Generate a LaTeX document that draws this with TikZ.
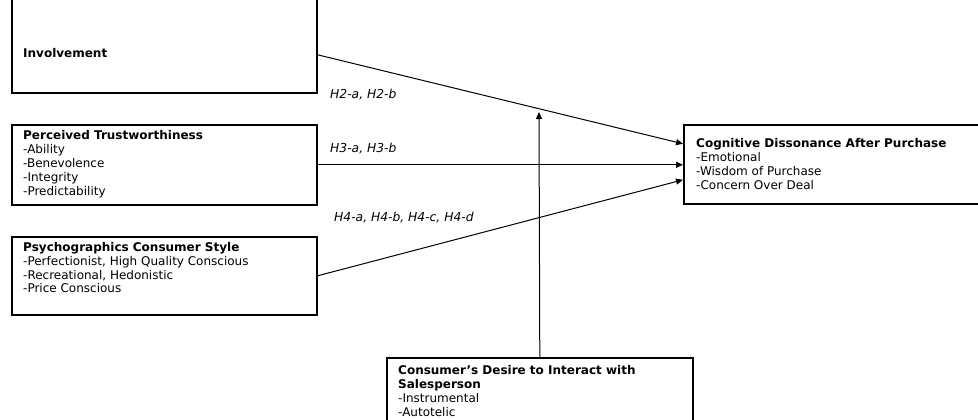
\documentclass[tikz,border=0pt]{standalone}
\usepackage{fontspec}
\setmainfont{DejaVu Sans}
\usetikzlibrary{arrows.meta}
\begin{document}
\begin{tikzpicture}[x=1pt,y=-1pt,
  box/.style={draw, line width=1.6pt, inner sep=0pt, anchor=north west},
  txt/.style={inner sep=0pt, anchor=north west, align=left, font=\fontsize{12}{13.9}\selectfont},
  lbl/.style={inner sep=0pt, anchor=base west, font=\fontsize{12.3}{14}\selectfont\itshape},
  arr/.style={line width=1pt, -{Triangle[length=7pt,width=6pt]}}]
\useasboundingbox (0,0) rectangle (978,420);
% boxes
\node[box, minimum width=305pt, minimum height=97pt] (inv) at (11,-5) {};
\node[box, minimum width=305pt, minimum height=80pt] (per) at (11,124) {};
\node[box, minimum width=305pt, minimum height=78pt] (psy) at (11,236) {};
\node[box, minimum width=305pt, minimum height=79pt] (cog) at (683,124) {};
\node[box, minimum width=306pt, minimum height=70pt] (con) at (386,357) {};
% texts
\node[txt] (invt) at (23,47.9) {\textbf{Involvement}};
\node[txt] (pert) at (23,130.2) {\textbf{Perceived Trustworthiness}\\-Ability\\-Benevolence\\-Integrity\\-Predictability};
\node[txt] (psyt) at (23,241.9) {\textbf{Psychographics Consumer Style}\\-Perfectionist, High Quality Conscious\\-Recreational, Hedonistic\\-Price Conscious};
\node[txt] (cogt) at (696,138.2) {\textbf{Cognitive Dissonance After Purchase}\\-Emotional\\-Wisdom of Purchase\\-Concern Over Deal};
\node[txt] (cont) at (398,365.2) {\textbf{Consumer’s Desire to Interact with}\\\textbf{Salesperson}\\-Instrumental\\-Autotelic};
% labels
\node[lbl] (l2) at (330,99) {H2-a, H2-b};
\node[lbl] (l3) at (330,152) {H3-a, H3-b};
\node[lbl] (l4) at (334,221) {H4-a, H4-b, H4-c, H4-d};
% connectors
\coordinate (mod) at (539,112);
\draw[arr] ([yshift=-10.5pt]inv.east) -- ([yshift=20.5pt]cog.west);
\draw[arr] (per.east) -- (cog.west |- per.east);
\draw[arr] (psy.east) -- ([yshift=-15.5pt]cog.west);
\draw[arr] (con.north) -- (mod);
\end{tikzpicture}
\end{document}
